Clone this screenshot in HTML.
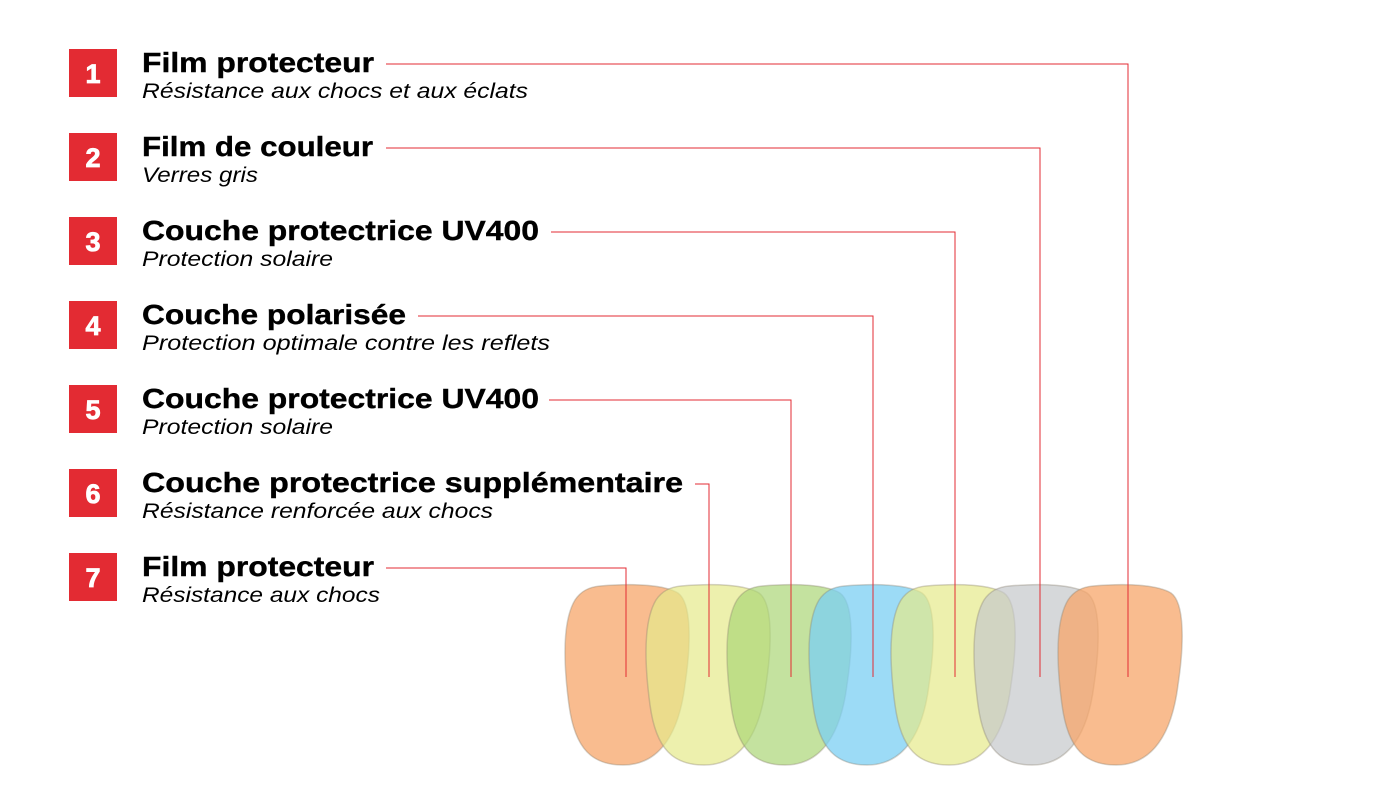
<!DOCTYPE html>
<html><head><meta charset="utf-8"><style>html,body{margin:0;padding:0;background:#fff}svg{display:block}</style></head><body>
<svg width="1380" height="802" viewBox="0 0 1380 802" xmlns="http://www.w3.org/2000/svg">
<defs>
<path id="lens" d="M35,1 C70,-2 100,0 113,8 C127,18 126,60 120,100 C114,148 95,180 58,180 C28,180 10,165 4,120 C-2,75 -2,35 10,15 C16,6 24,2 35,1 Z"/>
</defs>
<g stroke="#8a8070" stroke-opacity="0.35" stroke-width="1.5">
<use href="#lens" x="565" y="585" fill="#f7a56a" fill-opacity="0.75"/>
<use href="#lens" x="646" y="585" fill="#e6e98a" fill-opacity="0.7"/>
<use href="#lens" x="727" y="585" fill="#abd676" fill-opacity="0.7"/>
<use href="#lens" x="809" y="585" fill="#7bcff3" fill-opacity="0.75"/>
<use href="#lens" x="891" y="585" fill="#e6e98a" fill-opacity="0.7"/>
<use href="#lens" x="974" y="585" fill="#c5c7ca" fill-opacity="0.7"/>
<use href="#lens" x="1058" y="585" fill="#f7a56a" fill-opacity="0.75"/>
</g>
<g stroke="#e32b33" stroke-width="1" fill="none">
<polyline points="386,64 1128,64 1128,677"/>
<polyline points="386,148 1040,148 1040,677"/>
<polyline points="551,232 955,232 955,677"/>
<polyline points="418,316 873,316 873,677"/>
<polyline points="549,400 791,400 791,677"/>
<polyline points="695,484 709,484 709,677"/>
<polyline points="386,568 626,568 626,677"/>
</g>
<g font-family="Liberation Sans, sans-serif">
<g fill="#e32b33">
<rect x="69" y="49" width="48" height="48"/><rect x="69" y="133" width="48" height="48"/><rect x="69" y="217" width="48" height="48"/><rect x="69" y="301" width="48" height="48"/><rect x="69" y="385" width="48" height="48"/><rect x="69" y="469" width="48" height="48"/><rect x="69" y="553" width="48" height="48"/>
</g>
<g fill="#fff" font-weight="bold" font-size="27" text-anchor="middle" stroke="#fff" stroke-width="0.8">
<text x="93" y="83">1</text><text x="93" y="167">2</text><text x="93" y="251">3</text><text x="93" y="335">4</text><text x="93" y="419">5</text><text x="93" y="503">6</text><text x="93" y="587">7</text>
</g>
<g fill="#000" font-weight="bold" font-size="28" stroke="#000" stroke-width="0.4">
<text x="142" y="72" textLength="232" lengthAdjust="spacingAndGlyphs">Film protecteur</text>
<text x="142" y="156" textLength="231" lengthAdjust="spacingAndGlyphs">Film de couleur</text>
<text x="142" y="240" textLength="397" lengthAdjust="spacingAndGlyphs">Couche protectrice UV400</text>
<text x="142" y="324" textLength="264" lengthAdjust="spacingAndGlyphs">Couche polarisée</text>
<text x="142" y="408" textLength="397" lengthAdjust="spacingAndGlyphs">Couche protectrice UV400</text>
<text x="142" y="492" textLength="541" lengthAdjust="spacingAndGlyphs">Couche protectrice supplémentaire</text>
<text x="142" y="576" textLength="232" lengthAdjust="spacingAndGlyphs">Film protecteur</text>
</g>
<g fill="#000" font-style="italic" font-size="21">
<text x="142" y="98" textLength="386" lengthAdjust="spacingAndGlyphs">Résistance aux chocs et aux éclats</text>
<text x="142" y="182" textLength="116" lengthAdjust="spacingAndGlyphs">Verres gris</text>
<text x="142" y="266" textLength="191" lengthAdjust="spacingAndGlyphs">Protection solaire</text>
<text x="142" y="350" textLength="408" lengthAdjust="spacingAndGlyphs">Protection optimale contre les reflets</text>
<text x="142" y="434" textLength="191" lengthAdjust="spacingAndGlyphs">Protection solaire</text>
<text x="142" y="518" textLength="351" lengthAdjust="spacingAndGlyphs">Résistance renforcée aux chocs</text>
<text x="142" y="602" textLength="238" lengthAdjust="spacingAndGlyphs">Résistance aux chocs</text>
</g>
</g>
</svg>
</body></html>
